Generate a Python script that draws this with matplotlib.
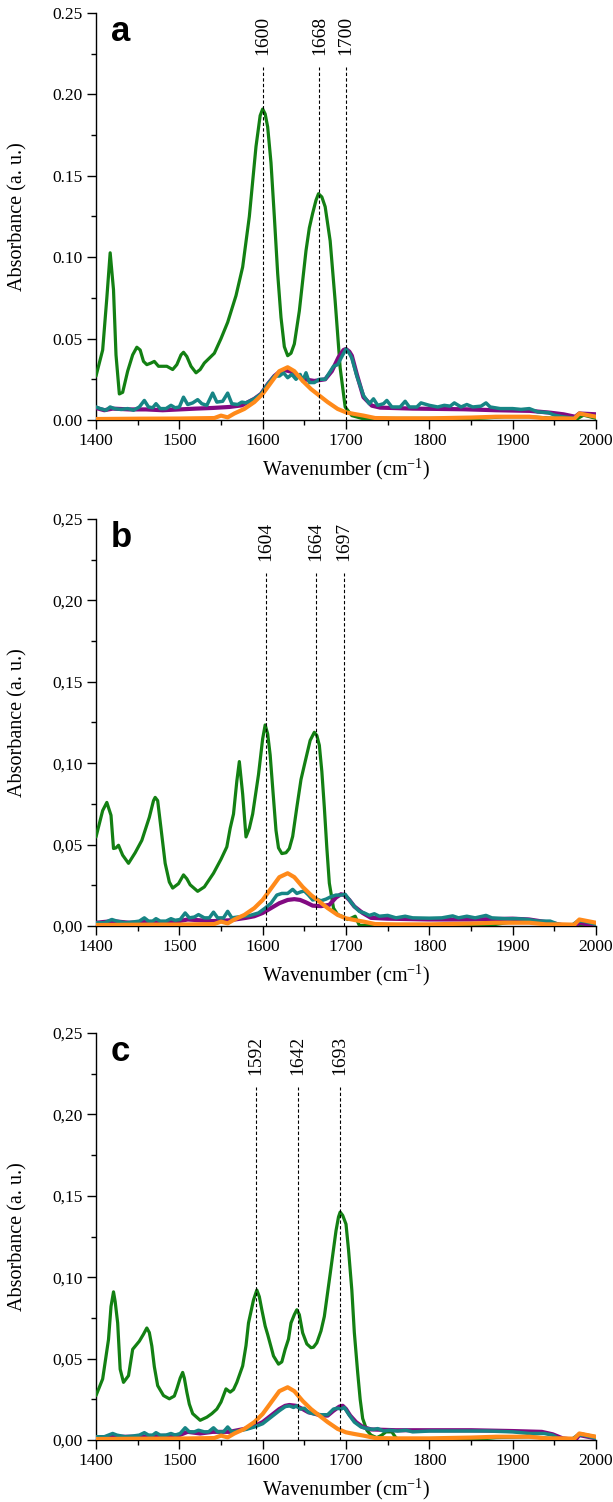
import matplotlib
matplotlib.use("Agg")
import matplotlib.pyplot as plt
from matplotlib.ticker import MultipleLocator, FuncFormatter

plt.rcParams["font.family"] = ["Liberation Serif", "DejaVu Serif"]
plt.rcParams["mathtext.default"] = "regular"

# ---------------- reference (orange) spectrum, same in every panel ----------------
ref_x = [1400, 1450, 1500, 1542, 1550, 1558, 1566, 1578, 1590, 1600, 1610, 1620,
         1630, 1638, 1648, 1658, 1668, 1678, 1690, 1700, 1710, 1721, 1735, 1760,
         1800, 1850, 1880, 1920, 1940, 1960, 1974, 1980, 1990, 2000]
ref_y = [0.0006, 0.0008, 0.0009, 0.0012, 0.0027, 0.0016, 0.004, 0.0068, 0.011, 0.016,
         0.023, 0.030, 0.0324, 0.030, 0.024, 0.019, 0.015, 0.011, 0.0068, 0.0047,
         0.0037, 0.0027, 0.0012, 0.001, 0.001, 0.0015, 0.002, 0.002, 0.001, 0.001,
         0.0008, 0.004, 0.003, 0.002]

# ---------------- panel a ----------------
a_green_x = [1400, 1408, 1413, 1417, 1421, 1424, 1428, 1432, 1438, 1444, 1449, 1453,
             1457, 1461, 1466, 1470, 1475, 1485, 1492, 1497, 1502, 1505, 1509, 1514,
             1520, 1525, 1530, 1542, 1550, 1558, 1568, 1576, 1584, 1592, 1597, 1600,
             1603, 1606, 1610, 1614, 1618, 1622, 1626, 1630, 1634, 1638, 1644, 1652,
             1656, 1660, 1664, 1667, 1671, 1675, 1681, 1687, 1693, 1699, 1707, 1719,
             1800, 1860, 1890, 1920, 1950, 1975, 1985, 2000]
a_green_y = [0.027, 0.043, 0.075, 0.1027, 0.080, 0.040, 0.016, 0.017, 0.030, 0.040,
             0.0447, 0.043, 0.036, 0.034, 0.035, 0.036, 0.033, 0.033, 0.031, 0.034,
             0.040, 0.0416, 0.039, 0.033, 0.029, 0.031, 0.035, 0.041, 0.050, 0.060,
             0.0764, 0.094, 0.125, 0.168, 0.187, 0.191, 0.188, 0.180, 0.158, 0.125,
             0.090, 0.063, 0.045, 0.0395, 0.041, 0.0467, 0.067, 0.104, 0.118, 0.127,
             0.135, 0.139, 0.137, 0.131, 0.110, 0.073, 0.032, 0.008, 0.0027, 0.001,
             0.001, 0.001, 0.002, 0.002, 0.001, 0.000, 0.003, 0.001]

a_purple_x = [1400, 1410, 1420, 1440, 1460, 1480, 1500, 1520, 1540, 1560, 1575, 1590,
              1598, 1606, 1614, 1620, 1626, 1634, 1642, 1650, 1662, 1675, 1683, 1691,
              1697, 1700, 1704, 1707, 1713, 1721, 1731, 1741, 1780, 1841, 1880, 1921,
              1945, 1961, 1975, 1980, 2000]
a_purple_y = [0.0074, 0.006, 0.007, 0.0065, 0.0065, 0.006, 0.0065, 0.007, 0.0074, 0.008,
              0.009, 0.013, 0.016, 0.022, 0.027, 0.0295, 0.0307, 0.0297, 0.027, 0.025,
              0.024, 0.025, 0.030, 0.0385, 0.043, 0.0436, 0.042, 0.0395, 0.028, 0.014,
              0.0088, 0.0076, 0.007, 0.0066, 0.006, 0.0056, 0.0045, 0.0035, 0.002,
              0.004, 0.0035]

a_teal_x = [1400, 1405, 1412, 1417, 1422, 1430, 1438, 1445, 1452, 1458, 1463, 1468,
            1472, 1477, 1484, 1490, 1495, 1500, 1505, 1510, 1516, 1522, 1527, 1533,
            1540, 1545, 1552, 1558, 1563, 1570, 1575, 1580, 1590, 1598, 1606, 1614,
            1620, 1625, 1630, 1635, 1640, 1645, 1648, 1652, 1656, 1662, 1668, 1675,
            1680, 1685, 1690, 1694, 1700, 1704, 1707, 1713, 1721, 1728, 1733, 1738,
            1745, 1749, 1755, 1765, 1771, 1776, 1785, 1790, 1800, 1810, 1818, 1825,
            1830, 1838, 1845, 1852, 1862, 1868, 1873, 1885, 1900, 1910, 1920, 1930,
            1943, 1950, 1960, 1974, 1980, 1990, 2000]
a_teal_y = [0.008, 0.007, 0.006, 0.008, 0.007, 0.0065, 0.007, 0.006, 0.008, 0.012,
            0.008, 0.0075, 0.010, 0.007, 0.007, 0.009, 0.0075, 0.008, 0.014, 0.0095,
            0.0105, 0.0125, 0.010, 0.009, 0.0165, 0.011, 0.0115, 0.0165, 0.010, 0.0095,
            0.011, 0.0105, 0.013, 0.016, 0.022, 0.027, 0.027, 0.029, 0.026, 0.028,
            0.025, 0.028, 0.024, 0.029, 0.023, 0.023, 0.025, 0.025, 0.029, 0.033,
            0.034, 0.038, 0.0436, 0.041, 0.038, 0.027, 0.015, 0.010, 0.013, 0.009,
            0.010, 0.012, 0.008, 0.008, 0.0115, 0.008, 0.008, 0.0105, 0.009, 0.008,
            0.009, 0.0085, 0.0105, 0.008, 0.0095, 0.008, 0.0085, 0.0105, 0.008, 0.007,
            0.007, 0.0065, 0.007, 0.005, 0.0045, 0.003, 0.002, 0.001, 0.004, 0.003,
            0.002]

# ---------------- panel b ----------------
b_green_x = [1400, 1408, 1413, 1418, 1421, 1424, 1427, 1432, 1439, 1447, 1455, 1464,
             1469, 1471, 1474, 1478, 1483, 1488, 1492, 1499, 1505, 1509, 1513, 1522,
             1530, 1541, 1550, 1557, 1561, 1565, 1569, 1572, 1576, 1580, 1584, 1588,
             1595, 1600, 1603, 1606, 1609, 1612, 1616, 1619, 1623, 1628, 1632, 1636,
             1641, 1646, 1651, 1657, 1662, 1665, 1668, 1671, 1674, 1677, 1680, 1685,
             1690, 1695, 1702, 1707, 1711, 1716, 1750, 1850, 1880, 1905, 1920, 1935,
             1950, 2000]
b_green_y = [0.0547, 0.0709, 0.0759, 0.068, 0.0476, 0.048, 0.0496, 0.0435, 0.0385,
             0.045, 0.0526, 0.0668, 0.077, 0.079, 0.077, 0.060, 0.0385, 0.027, 0.0233,
             0.026, 0.0314, 0.029, 0.0253, 0.0213, 0.024, 0.0324, 0.041, 0.0486, 0.060,
             0.0688, 0.089, 0.101, 0.081, 0.0547, 0.060, 0.0688, 0.093, 0.115, 0.1235,
             0.118, 0.105, 0.085, 0.0587, 0.048, 0.0445, 0.045, 0.0476, 0.055, 0.0729,
             0.090, 0.101, 0.114, 0.119, 0.117, 0.111, 0.095, 0.0729, 0.048, 0.0263,
             0.011, 0.007, 0.006, 0.004, 0.005, 0.006, 0.0004, 0.0, 0.0, 0.001, 0.003,
             0.003, 0.002, 0.0, 0.0]

b_purple_x = [1400, 1420, 1440, 1460, 1480, 1500, 1510, 1525, 1540, 1560, 1580, 1590,
              1600, 1610, 1620, 1630, 1638, 1645, 1652, 1660, 1670, 1680, 1688, 1694,
              1698, 1704, 1710, 1720, 1730, 1750, 1800, 1850, 1900, 1920, 1945, 1960,
              1975, 1980, 1990, 2000]
b_purple_y = [0.002, 0.003, 0.002, 0.0025, 0.002, 0.003, 0.004, 0.0035, 0.003, 0.0035,
              0.005, 0.006, 0.008, 0.011, 0.014, 0.016, 0.0165, 0.016, 0.0145, 0.0125,
              0.0122, 0.013, 0.0175, 0.0195, 0.019, 0.016, 0.012, 0.008, 0.005, 0.0045,
              0.004, 0.004, 0.0045, 0.004, 0.002, 0.0005, 0.0, 0.002, 0.001, 0.0]

b_teal_x = [1400, 1410, 1419, 1425, 1435, 1445, 1452, 1458, 1463, 1468, 1472, 1477,
            1484, 1490, 1495, 1501, 1507, 1512, 1518, 1523, 1530, 1536, 1541, 1546,
            1553, 1558, 1563, 1570, 1578, 1585, 1595, 1603, 1610, 1617, 1623, 1630,
            1636, 1641, 1646, 1650, 1655, 1660, 1665, 1670, 1676, 1682, 1688, 1694,
            1699, 1704, 1710, 1716, 1722, 1728, 1734, 1740, 1750, 1760, 1771, 1780,
            1800, 1815, 1828, 1835, 1845, 1855, 1868, 1875, 1890, 1905, 1918, 1930,
            1945, 1955, 1970, 1978, 1985, 2000]
b_teal_y = [0.002, 0.002, 0.004, 0.003, 0.002, 0.0025, 0.003, 0.005, 0.003, 0.003,
            0.0045, 0.003, 0.003, 0.0045, 0.0035, 0.004, 0.008, 0.005, 0.0055, 0.007,
            0.005, 0.005, 0.0085, 0.005, 0.005, 0.009, 0.005, 0.0055, 0.006, 0.0065,
            0.008, 0.011, 0.014, 0.019, 0.020, 0.020, 0.0225, 0.020, 0.021, 0.0215,
            0.019, 0.016, 0.0165, 0.0155, 0.0165, 0.018, 0.019, 0.019, 0.0195, 0.016,
            0.012, 0.009, 0.008, 0.0065, 0.0075, 0.006, 0.0065, 0.005, 0.006, 0.005,
            0.0048, 0.005, 0.0062, 0.005, 0.006, 0.005, 0.0065, 0.005, 0.0045, 0.0045,
            0.004, 0.003, 0.003, 0.001, 0.0, 0.003, 0.003, 0.001]

# ---------------- panel c ----------------
c_green_x = [1400, 1408, 1415, 1418, 1421, 1423, 1426, 1429, 1433, 1439, 1444, 1452,
             1457, 1461, 1464, 1467, 1470, 1474, 1481, 1488, 1494, 1497, 1501, 1504,
             1506, 1509, 1512, 1516, 1525, 1533, 1539, 1545, 1550, 1556, 1561, 1565,
             1569, 1576, 1580, 1583, 1589, 1593, 1596, 1599, 1603, 1606, 1613, 1619,
             1623, 1627, 1631, 1634, 1638, 1641, 1644, 1648, 1653, 1658, 1661, 1665,
             1670, 1674, 1681, 1688, 1691, 1693, 1696, 1700, 1703, 1707, 1710, 1714,
             1717, 1720, 1725, 1730, 1737, 1743, 1748, 1755, 1759, 1763, 1850, 1880,
             1920, 1945, 1960, 1975, 1980, 1990, 2000]
c_green_y = [0.0273, 0.0375, 0.0617, 0.082, 0.091, 0.085, 0.0719, 0.0435, 0.0354,
             0.0395, 0.0557, 0.0607, 0.065, 0.0688, 0.066, 0.0577, 0.045, 0.0334,
             0.0273, 0.0253, 0.027, 0.0314, 0.038, 0.0415, 0.038, 0.0294, 0.022, 0.0162,
             0.0121, 0.014, 0.0162, 0.019, 0.0233, 0.0314, 0.0294, 0.031, 0.0354, 0.0455,
             0.058, 0.0719, 0.086, 0.0921, 0.088, 0.080, 0.070, 0.0648, 0.0516, 0.0466,
             0.048, 0.0557, 0.062, 0.0719, 0.077, 0.080, 0.077, 0.0658, 0.059, 0.0567,
             0.057, 0.0597, 0.067, 0.0759, 0.102, 0.1285, 0.137, 0.140, 0.138, 0.1326,
             0.117, 0.0921, 0.066, 0.0415, 0.025, 0.0132, 0.006, 0.003, 0.0014, 0.003,
             0.005, 0.005, 0.002, 0.0, 0.0, 0.0015, 0.002, 0.001, 0.0, 0.0, 0.004,
             0.003, 0.002]

c_purple_x = [1400, 1420, 1450, 1480, 1500, 1510, 1525, 1540, 1560, 1580, 1592, 1600,
              1610, 1620, 1627, 1632, 1640, 1648, 1655, 1662, 1670, 1678, 1685, 1692,
              1696, 1700, 1705, 1712, 1720, 1730, 1760, 1800, 1850, 1900, 1935, 1948,
              1960, 1975, 1980, 1990, 2000]
c_purple_y = [0.001, 0.002, 0.002, 0.0025, 0.003, 0.005, 0.004, 0.005, 0.005, 0.007,
              0.009, 0.011, 0.015, 0.019, 0.021, 0.0215, 0.021, 0.019, 0.017, 0.0162,
              0.015, 0.015, 0.018, 0.0205, 0.021, 0.019, 0.015, 0.011, 0.008, 0.0065,
              0.006, 0.006, 0.006, 0.0055, 0.005, 0.0035, 0.001, 0.0, 0.003, 0.002, 0.001]

c_teal_x = [1400, 1410, 1420, 1425, 1435, 1445, 1452, 1458, 1463, 1468, 1472, 1477,
            1484, 1490, 1495, 1501, 1507, 1512, 1518, 1523, 1530, 1535, 1541, 1546,
            1553, 1558, 1563, 1570, 1580, 1590, 1600, 1610, 1620, 1627, 1632, 1637,
            1641, 1645, 1650, 1655, 1662, 1670, 1678, 1685, 1690, 1694, 1698, 1703,
            1710, 1718, 1725, 1733, 1738, 1745, 1752, 1762, 1772, 1780, 1800, 1825,
            1850, 1870, 1900, 1920, 1938, 1948, 1955, 1970, 1978, 1985, 2000]
c_teal_y = [0.002, 0.002, 0.004, 0.003, 0.002, 0.0025, 0.003, 0.0045, 0.003, 0.003,
            0.0045, 0.003, 0.003, 0.004, 0.003, 0.004, 0.0075, 0.005, 0.005, 0.006,
            0.005, 0.005, 0.0075, 0.005, 0.005, 0.008, 0.005, 0.0055, 0.0065, 0.008,
            0.010, 0.014, 0.018, 0.0205, 0.021, 0.020, 0.021, 0.019, 0.0195, 0.017,
            0.016, 0.0155, 0.0155, 0.019, 0.0195, 0.019, 0.020, 0.016, 0.011, 0.008,
            0.007, 0.0065, 0.007, 0.0055, 0.006, 0.0055, 0.006, 0.005, 0.0055, 0.0055,
            0.0055, 0.0055, 0.005, 0.004, 0.004, 0.003, 0.001, 0.0, 0.003, 0.003, 0.001]

# peak positions marked with dashed lines
a_peaks = [1600, 1668, 1700]
b_peaks = [1604, 1664, 1697]
c_peaks = [1592, 1642, 1693]

panel_letters = ["a", "b", "c"]
decimal_marks = [".", ",", ","]

GREEN = "#138013"
PURPLE = "#820a82"
TEAL = "#178585"
ORANGE = "#ff8a1a"

panels = [
    (a_green_x, a_green_y, a_purple_x, a_purple_y, a_teal_x, a_teal_y, a_peaks),
    (b_green_x, b_green_y, b_purple_x, b_purple_y, b_teal_x, b_teal_y, b_peaks),
    (c_green_x, c_green_y, c_purple_x, c_purple_y, c_teal_x, c_teal_y, c_peaks),
]

W, H = 613, 1502
fig = plt.figure(figsize=(W / 100, H / 100), dpi=100)

# axes boxes in pixels: (top, bottom)
boxes = [(13, 420), (519, 926), (1033, 1440)]
left_px, right_px = 96, 596

line_kw = dict(solid_joinstyle="round", solid_capstyle="round")

for i, (gx, gy, px, py, tx, ty, peaks) in enumerate(panels):
    top, bot = boxes[i]
    ax = fig.add_axes([left_px / W, 1 - bot / H, (right_px - left_px) / W, (bot - top) / H])

    ax.plot(gx, gy, color=GREEN, lw=2.3, zorder=3, **line_kw)
    ax.plot(px, py, color=PURPLE, lw=3.0, zorder=3, **line_kw)
    ax.plot(tx, ty, color=TEAL, lw=2.5, zorder=4, **line_kw)
    ax.plot(ref_x, ref_y, color=ORANGE, lw=3.0, zorder=5, **line_kw)

    for p in peaks:
        ax.plot([p, p], [0, 0.217], color="black", lw=0.8, ls=(0, (3, 2)), zorder=6)
        ax.text(p, 0.2245, str(p), rotation=90, ha="center", va="bottom",
                fontsize=14, zorder=7)

    ax.text(0.03, 0.995, panel_letters[i], transform=ax.transAxes,
            family=["Liberation Sans", "DejaVu Sans"], fontweight="bold",
            fontsize=25, ha="left", va="top")

    ax.set_xlim(1400, 2000)
    ax.set_ylim(0, 0.25)
    ax.xaxis.set_major_locator(MultipleLocator(100))
    ax.xaxis.set_minor_locator(MultipleLocator(50))
    ax.yaxis.set_major_locator(MultipleLocator(0.05))
    ax.yaxis.set_minor_locator(MultipleLocator(0.025))
    dm = decimal_marks[i]
    ax.yaxis.set_major_formatter(FuncFormatter(lambda v, pos, dm=dm: f"{v:.2f}".replace(".", dm)))

    for side in ("top", "right"):
        ax.spines[side].set_visible(False)
    for side in ("left", "bottom"):
        ax.spines[side].set_linewidth(1.0)
    ax.tick_params(which="major", direction="out", length=6.5, width=1.0,
                   labelsize=12.5, pad=3)
    ax.tick_params(which="minor", direction="out", length=3.5, width=1.0)

    ax.set_ylabel("Absorbance (a. u.)", fontsize=14.5)
    ax.set_xlabel("Wavenumber (cm$^{-1}$)", fontsize=14.5)
    ax.yaxis.set_label_coords(-0.138, 0.5)
    ax.xaxis.set_label_coords(0.5, -0.09)

fig.savefig("out.png", dpi=100)
